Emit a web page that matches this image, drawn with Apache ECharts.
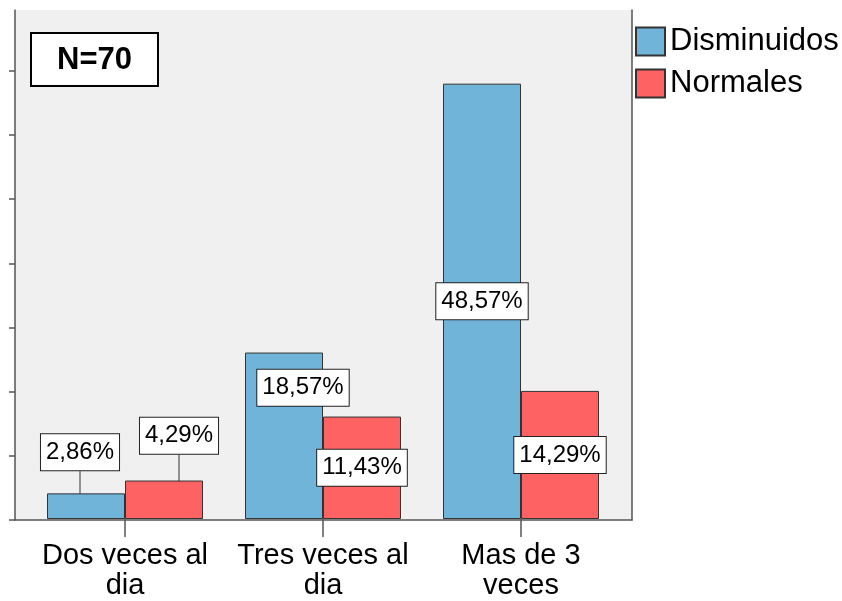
<!DOCTYPE html>
<html>
<head>
<meta charset="utf-8">
<script src="https://cdn.jsdelivr.net/npm/echarts@6/dist/echarts.min.js"></script>
<style>
  html, body { margin: 0; padding: 0; background: #fff; }
  #chart { width: 842px; height: 601px; }
</style>
</head>
<body>
<div id="chart"></div>
<script>
// Frecuencia de consumo y estado (porcentaje sobre N = 70)
const total = 70;
const categories = ['Dos veces al\ndia', 'Tres veces al\ndia', 'Mas de 3\nveces'];
const disminuidos = [2.86, 18.57, 48.57];
const normales = [4.29, 11.43, 14.29];
// y-axis ticks every 5 cases (labels hidden)
const yTickCounts = [0, 5, 10, 15, 20, 25, 30, 35];
const yTopCount = 39.75;

const FONT = '"Liberation Sans", Arial, Helvetica, sans-serif';
const AXIS_COLOR = '#555';

const toPct = c => c / total * 100;
const yTicks = yTickCounts.map(toPct);
const yMax = toPct(yTopCount);

const fmt = p => p.value.toFixed(2).replace('.', ',') + '%';

// Label nudges for crowded bars: [series][category] -> [dx, dy]
const labelNudge = [
  [[-6, -54], [19, -48], null],
  [[15, -64], null, null]
];

function labelStyle() {
  return {
    show: true,
    position: 'inside',
    formatter: fmt,
    fontFamily: FONT,
    fontSize: 24,
    lineHeight: 24,
    color: '#000',
    backgroundColor: '#fff',
    borderColor: '#222',
    borderWidth: 1,
    padding: [6, 5, 6, 5]
  };
}

function barData(values) {
  return values.map((v, i) => ({
    value: v,
    labelLine: { show: i === 0 }
  }));
}

function makeLayout(seriesIdx) {
  return function (params) {
    const n = labelNudge[seriesIdx][params.dataIndex];
    return n ? { dx: n[0], dy: n[1] } : {};
  };
}

const chart = echarts.init(document.getElementById('chart'), null, { renderer: 'canvas' });

chart.setOption({
  animation: false,
  backgroundColor: '#fff',
  textStyle: { fontFamily: FONT },
  title: {
    text: 'N=70',
    left: 31,
    top: 33,
    padding: [12, 26, 11, 26],
    borderWidth: 2,
    borderColor: '#000',
    backgroundColor: '#fff',
    textStyle: { fontFamily: FONT, fontSize: 31, fontWeight: 'bold', color: '#000', lineHeight: 30 }
  },
  legend: {
    orient: 'vertical',
    left: 630,
    top: 21,
    icon: 'rect',
    itemWidth: 29,
    itemHeight: 28,
    itemGap: 11,
    textStyle: { fontFamily: FONT, fontSize: 31, color: '#000' },
    data: ['Disminuidos', 'Normales']
  },
  grid: [
    { left: 15, right: 210, top: 10, bottom: 81, show: true, backgroundColor: '#f0f0f0', borderWidth: 0 },
    { left: 26, right: 222, top: 10, bottom: 81 }
  ],
  xAxis: [
    {
      gridIndex: 0, type: 'value', min: 0, max: 1,
      axisLine: { show: true, lineStyle: { color: AXIS_COLOR, width: 1.5 } },
      axisTick: { show: false }, axisLabel: { show: false }, splitLine: { show: false }
    },
    {
      gridIndex: 1, type: 'category', data: categories,
      axisLine: { show: false },
      axisTick: { show: true, alignWithLabel: true, length: 18, lineStyle: { color: AXIS_COLOR, width: 1.5 } },
      axisLabel: { interval: 0, fontFamily: FONT, fontSize: 29, lineHeight: 30, color: '#000', margin: 22 },
      splitLine: { show: false }
    }
  ],
  yAxis: [
    {
      gridIndex: 0, type: 'value', min: 0, max: yMax,
      axisLine: { show: true, lineStyle: { color: AXIS_COLOR, width: 1.5 } },
      axisTick: { show: true, length: 6, customValues: yTicks, lineStyle: { color: AXIS_COLOR, width: 1.5 } },
      axisLabel: { show: false }, splitLine: { show: false }
    },
    {
      gridIndex: 0, type: 'value', min: 0, max: yMax, position: 'right',
      axisLine: { show: true, onZero: false, lineStyle: { color: AXIS_COLOR, width: 1.5 } },
      axisTick: { show: false }, axisLabel: { show: false }, splitLine: { show: false }
    },
    {
      gridIndex: 1, type: 'value', min: 0, max: yMax, show: false
    }
  ],
  series: [
    {
      name: 'Disminuidos', type: 'bar', xAxisIndex: 1, yAxisIndex: 2,
      barWidth: 78, barGap: 0,
      data: barData(disminuidos),
      itemStyle: { color: '#71b4da', borderColor: '#333', borderWidth: 1 },
      label: labelStyle(),
      labelLine: { show: false, lineStyle: { color: '#333', width: 1 } },
      labelLayout: makeLayout(0)
    },
    {
      name: 'Normales', type: 'bar', xAxisIndex: 1, yAxisIndex: 2,
      barWidth: 78, barGap: 0,
      data: barData(normales),
      itemStyle: { color: '#ff6262', borderColor: '#333', borderWidth: 1 },
      label: labelStyle(),
      labelLine: { show: false, lineStyle: { color: '#333', width: 1 } },
      labelLayout: makeLayout(1)
    }
  ]
});
</script>
</body>
</html>
